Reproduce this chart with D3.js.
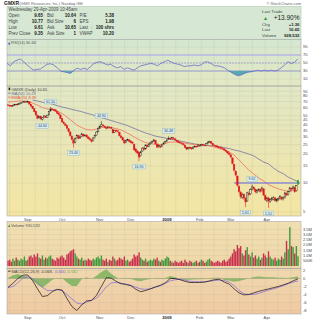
<!DOCTYPE html>
<html>
<head>
<meta charset="utf-8">
<script src="https://cdn.jsdelivr.net/npm/d3@7"></script>
<style>
  body { margin: 0; background: #fff; }
  svg { display: block; font-family: "Liberation Sans", Arial, sans-serif; }
</style>
</head>
<body>
<div id="chart"></div>
<script>
// ---- daily candles (Aug 14 2008 .. Apr 29 2009) ----
const opens = [64.8,64.0,63.4,62.9,64.3,65.5,64.8,66.0,67.5,68.2,
  69.8,70.0,69.0,69.8,65.5,62.4,59.0,55.6,50.5,47.5,
  49.2,46.0,47.9,49.5,48.0,51.0,56.0,58.9,57.6,57.5,
  55.5,53.2,50.8,46.5,42.8,41.0,39.5,36.5,33.8,30.5,
  28.0,26.5,29.5,31.0,29.4,30.5,32.0,31.0,31.5,30.0,
  28.8,28.0,27.5,29.5,31.5,34.0,37.2,38.8,40.0,38.8,
  37.5,37.2,38.0,37.8,36.0,33.6,35.2,34.8,33.5,30.8,
  29.5,27.6,26.5,27.8,28.0,27.2,26.5,25.2,22.5,21.4,
  20.8,19.2,21.5,23.1,22.6,24.6,24.0,25.5,26.4,27.2,
  27.6,25.4,23.8,24.2,23.9,25.1,26.2,27.0,28.2,29.0,
  28.8,29.4,28.7,27.8,27.0,26.4,25.9,25.5,24.8,23.3,
  22.6,23.4,23.2,22.8,23.7,24.0,23.9,24.6,24.3,25.1,
  24.7,24.6,25.8,26.5,26.8,25.6,24.7,24.4,24.1,23.4,
  23.4,23.0,22.6,21.9,21.2,20.4,19.6,18.2,15.6,13.2,
  11.8,9.2,8.0,7.1,7.6,6.9,6.5,7.8,7.7,8.6,
  9.0,8.6,8.0,8.4,8.6,8.3,8.7,7.4,6.6,7.0,
  6.4,6.8,6.8,7.0,6.5,6.8,6.9,7.1,6.9,7.1,
  7.8,7.6,8.2,8.8,8.7,9.0,8.3,9.65];
const highs = [65.9,65.0,64.1,65.2,66.4,66.7,67.0,68.4,69.2,70.6,
  71.5,71.2,71.8,70.4,66.3,63.5,59.8,56.2,51.4,49.8,
  49.9,48.3,50.6,50.3,51.3,56.2,61.5,59.8,58.5,58.1,
  56.0,54.0,51.5,47.2,44.0,42.1,40.2,37.4,34.5,31.4,
  28.9,29.6,32.0,31.8,30.9,33.2,32.7,32.2,32.0,30.8,
  29.6,28.7,29.9,31.8,34.5,37.8,39.6,43.9,41.2,39.7,
  38.6,39.0,38.9,38.5,36.7,35.8,36.0,35.6,34.1,31.6,
  30.2,28.3,28.2,29.0,28.6,27.9,27.1,25.8,23.2,22.0,
  21.2,21.6,23.6,23.8,25.3,25.2,25.8,26.8,27.6,28.7,
  28.1,25.9,24.9,24.7,25.4,26.5,27.4,28.6,30.48,29.7,
  30.1,29.9,29.2,28.3,27.6,27.0,26.4,26.0,25.3,23.8,
  23.7,23.9,23.6,24.1,24.6,24.5,25.2,25.0,25.5,25.6,
  25.2,26.0,27.1,27.6,27.2,26.0,25.2,24.8,24.5,24.0,
  23.8,23.4,23.0,22.3,21.6,20.9,20.0,18.5,16.0,13.6,
  12.0,9.5,8.3,7.9,7.8,7.1,8.1,8.2,8.8,9.62,
  9.3,8.8,8.6,8.8,8.8,9.2,8.8,7.6,7.2,7.1,
  6.9,7.2,7.3,7.1,6.9,7.1,7.5,7.3,7.3,8.1,
  8.0,8.3,9.1,9.0,9.4,9.2,9.5,10.77];
const lows = [62.8,62.2,61.6,62.3,63.5,63.9,64.2,65.4,66.6,67.5,
  68.6,68.1,68.4,65.2,61.9,58.7,54.3,50.1,46.0,46.6,
  45.4,44.6,47.0,47.4,47.5,50.4,55.3,56.9,55.9,55.0,
  52.2,50.3,46.2,42.3,40.6,38.9,36.1,33.5,30.2,27.6,
  23.4,25.8,28.9,28.4,28.7,30.0,30.1,30.4,29.5,28.3,
  27.4,26.2,27.0,29.0,31.0,33.6,36.5,38.2,38.4,37.2,
  36.0,36.6,36.7,36.2,32.5,33.0,33.8,33.4,30.4,28.9,
  27.3,25.4,25.9,27.2,26.4,25.7,25.3,21.6,20.6,19.8,
  16.9,18.7,21.0,21.7,22.2,23.3,23.6,25.0,25.9,26.8,
  25.0,23.0,23.3,23.0,23.5,24.7,25.8,26.6,27.9,28.0,
  28.3,28.3,27.5,26.7,26.0,25.5,25.0,24.4,23.0,22.0,
  22.2,22.5,22.1,22.4,23.3,23.3,23.6,23.8,24.0,24.3,
  24.0,24.3,25.5,26.0,25.5,24.3,24.0,23.5,23.1,23.0,
  22.5,22.2,21.6,20.9,20.0,19.3,18.1,15.6,13.2,11.7,
  9.2,7.8,6.9,6.8,6.7,5.61,6.4,7.3,7.5,8.4,
  8.4,7.8,7.8,8.1,7.9,8.1,7.3,6.5,6.3,5.51,
  6.2,6.5,6.6,6.4,6.3,6.5,6.7,6.6,6.6,6.9,
  7.3,7.4,8.0,8.3,8.5,7.9,8.1,9.61];
const closes = [64.2,63.1,62.5,64.0,65.3,64.6,66.1,67.2,68.0,69.4,
  70.1,69.2,70.3,66.0,62.8,59.6,55.2,51.0,47.1,48.9,
  46.3,47.5,49.8,48.2,50.6,55.4,58.6,58.0,57.1,55.8,
  53.0,51.2,47.0,43.1,41.5,39.8,37.0,34.2,31.0,28.5,
  26.0,28.9,31.2,29.1,30.0,32.4,30.8,31.3,30.1,29.0,
  28.1,27.0,29.3,31.1,33.8,37.0,38.5,40.2,39.1,38.0,
  36.9,38.2,37.5,37.0,33.2,35.0,34.6,34.1,31.0,29.6,
  28.0,26.1,27.5,28.2,27.0,26.3,26.0,22.1,21.2,20.5,
  18.6,21.0,23.0,22.3,24.8,23.9,25.2,26.1,27.0,28.0,
  25.6,23.6,24.4,23.6,24.9,26.0,26.8,28.0,29.1,28.6,
  29.5,28.9,28.0,27.2,26.5,26.0,25.6,25.0,23.4,22.5,
  23.2,23.0,22.6,23.6,24.1,23.8,24.8,24.2,25.0,24.8,
  24.5,25.6,26.6,27.0,25.9,24.8,24.5,24.0,23.6,23.5,
  23.0,22.7,22.0,21.4,20.5,19.8,18.6,16.0,13.6,12.1,
  9.5,8.1,7.2,7.5,7.0,6.35,7.9,7.6,8.5,9.1,
  8.7,8.1,8.3,8.5,8.2,8.9,7.5,6.7,7.0,6.5,
  6.7,6.9,7.0,6.6,6.7,6.9,7.2,6.8,7.0,7.9,
  7.5,8.1,8.9,8.6,9.1,8.1,9.35,10.65];
// volume in millions
const volumes = [0.5,0.6,0.4,0.7,0.5,0.8,0.6,0.5,0.7,0.6,0.9,0.5,0.6,
  0.9,1.0,0.8,1.1,0.9,1.2,0.8,0.7,1.0,0.6,0.8,0.7,0.9,
  1.0,0.7,0.6,0.5,0.8,0.7,0.9,1.0,0.8,0.6,1.1,1.2,1.4,1.5,1.6,
  1.2,0.9,0.7,0.6,0.8,0.5,0.6,0.5,0.7,0.6,0.5,0.7,0.6,0.8,0.9,
  0.7,1.0,0.6,0.5,0.7,0.4,0.6,0.5,0.9,0.7,0.5,0.6,0.8,0.7,0.6,0.9,0.5,0.6,0.4,0.5,
  0.7,1.1,0.9,1.0,1.3,0.8,0.6,0.5,0.7,0.4,0.5,0.6,0.5,0.7,0.6,0.8,0.5,0.4,0.6,0.5,0.7,0.9,
  0.8,0.5,0.4,0.3,0.5,0.4,0.3,0.4,0.5,0.3,0.6,0.4,0.3,0.5,0.4,0.3,0.4,0.5,0.3,0.4,
  0.6,0.5,0.3,0.4,0.6,0.7,0.5,0.4,0.3,0.4,0.5,0.4,0.3,0.5,0.6,0.4,0.5,0.7,
  0.9,1.2,1.6,1.4,2.0,1.7,1.9,1.2,1.0,1.5,1.8,1.1,0.9,1.3,0.8,1.0,0.7,0.9,0.6,0.8,1.2,1.0,
  0.8,1.4,0.9,0.7,0.6,0.8,0.5,0.7,0.6,0.9,0.7,1.3,2.4,1.6,3.7,1.9,1.8,1.2,1.9,0.93];

// ---- indicator lines, one reading every 3 trading days ----
const ma50 = [null,null,null,null,null,72.6,71,69,67.6,66,63.6,61.5,60,58,56.5,55,53,51.4,49.6,47.8,
  46.1,44.5,42.9,41.4,40,38.1,36.3,34.6,33,31.9,30.7,30,29.3,28.6,27.9,27.3,26.6,26,25.4,25.1,
  24.8,24.5,24.2,23.9,23.3,22.8,22,21.5,20.7,20,19.1,17.7,16.5,15.8,14.3,13.2,12.5,11.5,10.9,10.29];
const ema20 = [69.3,70,71,71,70,67.6,64.4,60.7,59,58,55.9,52.7,48.4,44,40,37.6,35.9,35.5,36.3,37.6,
  38,37.6,36.7,35.5,33.5,31.5,29.3,27.6,26.3,25.7,25.1,25.1,25.7,26.6,26.6,26.3,26,25.4,25.1,24.8,
  24.5,24.2,23.6,22.8,22,21,19.5,17.3,15.4,13.6,12.4,11.3,10.5,9.6,9.1,8.7,8.4,8.2,8.3,8.39];
const macd = [-2.2,-1.2,0,0.8,0.9,-0.5,-2.6,-4.5,-4.3,-3.3,-2.7,-2.9,-5.0,-7.0,-8.0,-6.6,-5.6,-5.5,-4.2,-2.0,
  0.2,0.1,-0.7,-1.3,-1.5,-1.8,-2.7,-3.3,-3.0,-2.6,-2.1,-1.7,-1.1,0,0,-0.3,-0.7,-1.0,-1.0,-1.0,
  -0.9,-0.6,-0.3,-0.2,-0.9,-1.4,-2.6,-3.6,-4.1,-4.0,-3.6,-3.2,-2.9,-2.6,-2.3,-2.0,-1.6,-1.2,-0.6,-0.068];
const signal = [-2.3,-2.0,-1.1,0.1,0.5,0.0,-1.1,-2.2,-3.0,-3.0,-2.8,-3.0,-4.0,-5.1,-6.1,-6.4,-5.9,-5.4,-4.9,-3.6,
  -2.1,-1.1,-1.0,-1.2,-1.4,-1.7,-2.2,-2.6,-2.7,-2.5,-2.2,-1.8,-1.2,-0.6,-0.3,-0.2,-0.4,-0.7,-0.8,-0.8,
  -0.8,-0.7,-0.5,-0.4,-0.5,-0.9,-1.8,-3.0,-3.8,-4.0,-4.0,-3.7,-3.3,-2.9,-2.6,-2.2,-1.8,-1.3,-0.9,-0.6];
// RSI(14), one reading every 2 trading days
const rsi = [49,43,53,57,60,53,45,38,32,34,35,41,47,48,45,38,30,28,26,24,
  32,37,34,37,34,41,49,52,53,49,45,47,41,38,41,34,38,35,32,38,
  43,45,47,49,47,43,49,53,57,53,49,47,45,41,43,43,45,43,45,52,
  53,49,43,43,41,38,32,27,22,18,20,24,27,28,30,32,30,32,30,32,
  30,32,38,45,53,49,52,60.66];

// ---- axis / annotation values ----
const monthLabels = ['Sep','Oct','Nov','Dec','2009','Feb','Mar','Apr'];
const monthStarts = [12,33,56,75,97,117,136,158];
const priceTicks = [90,80,70,60,50,45,40,35,30,25,20,15,10,5];
const volTicks = [0.5,1,1.5,2,2.5,3,3.5];
const macdTicks = [2,0,-2,-4,-6,-8];
const rsiTicks = [90,70,50,30,10];
const peakDays = [26,57,98,149];
const troughDays = [21,40,80,145,159];
const trendDays = [138,177];
const trendPrice = 10;

const quoteLeft = [['Open','9.65'],['High','10.77'],['Low','9.61'],['Prev Close','9.35']];
const quoteMid = [['Bid','10.64'],['Bid Size','6'],['Ask','10.65'],['Ask Size','1']];
const quoteRight = [['P/E','5.38'],['EPS','1.98'],['Last',''],['VWAP','10.20']];
const lastTrade = [['Chg','+1.30'],['Last','10.65'],['Volume','928,532']];

const N = closes.length;
const L = 7, R = 301;
const panels = {
  rsi: [39.5, 86], price: [86, 216], vol: [221.5, 268.3], macd: [268.3, 314]
};

const svg = d3.select('#chart').append('svg').attr('width', 320).attr('height', 320);
const defs = svg.append('defs');

function grad(id, c0, c1) {
  const g = defs.append('linearGradient').attr('id', id)
    .attr('x1', 0).attr('y1', 0).attr('x2', 0).attr('y2', 1);
  g.append('stop').attr('offset', 0).attr('stop-color', c0);
  g.append('stop').attr('offset', 1).attr('stop-color', c1);
}
grad('gRsi', '#d5e6d1', '#e3e9c3');
grad('gPrice', '#e1e7c6', '#f4e5a2');
grad('gVol', '#f1dfb2', '#efd7a8');
grad('gMacd', '#f0d8ae', '#f0c9a2');

Object.entries(panels).forEach(([k, [y0, y1]]) => {
  defs.append('clipPath').attr('id', 'clip-' + k)
    .append('rect').attr('x', L).attr('y', y0).attr('width', R - L).attr('height', y1 - y0);
});

// scales
const x = d3.scaleLinear().domain([0, N - 1]).range([8, 298]);
const sx = d3.scaleLinear().domain([0, macd.length - 1]).range([x(0), x(N - 1)]);
const rx = d3.scaleLinear().domain([0, rsi.length - 1]).range([x(0) - 1, x(N - 1)]);
const rsiY = d3.scaleLinear().domain([0, 100]).range([83, 43]);
const priceY = d3.scaleLog().domain([4, 100]).range([221.3, 86.7]);
const volY = d3.scaleLinear().domain([0, 3.5]).range([266, 229.3]);
const macdY = d3.scaleLinear().domain([-8, 2]).range([310.5, 270.5]);

// header
svg.append('text').attr('x', 4).attr('y', 5).attr('font-size', 5).attr('font-weight', 'bold')
  .attr('fill', '#222').text('GMXR');
svg.append('text').attr('x', 19.5).attr('y', 5).attr('font-size', 4).attr('fill', '#666')
  .text('(GMX Resources, Inc.) Nasdaq GM');
svg.append('text').attr('x', 301).attr('y', 4.6).attr('text-anchor', 'end').attr('font-size', 4)
  .attr('fill', '#666').text('© StockCharts.com');

// quote box
svg.append('rect').attr('x', L).attr('y', 6.5).attr('width', R - L).attr('height', 33)
  .attr('fill', '#d6e8d4').attr('stroke', '#a8bfa8').attr('stroke-width', 0.5);
const qg = svg.append('g').attr('font-size', 4.5).attr('fill', '#444');
qg.append('text').attr('x', 8.5).attr('y', 11).text('Wednesday  29-Apr-2009  10:45am');
const rows = [17.3, 23.3, 29.3, 35.3];
function quoteCol(pairs, lx, vx) {
  pairs.forEach((p, j) => {
    qg.append('text').attr('x', lx).attr('y', rows[j]).text(p[0]);
    qg.append('text').attr('x', vx).attr('y', rows[j]).attr('text-anchor', 'end')
      .attr('font-weight', 'bold').attr('fill', '#222').text(p[1]);
  });
}
quoteCol(quoteLeft, 8.5, 43);
quoteCol(quoteMid, 47, 76);
quoteCol(quoteRight, 79.5, 114);
qg.append('text').attr('x', 90.5).attr('y', rows[2]).attr('fill', '#2a9a2a').attr('font-weight', 'bold').text('↑');
qg.append('text').attr('x', 114).attr('y', rows[2]).attr('text-anchor', 'end')
  .attr('font-weight', 'bold').attr('fill', '#222').text('100 shrs');
qg.append('text').attr('x', 262).attr('y', 13.2).attr('font-size', 4.3).text('Last Trade');
qg.append('text').attr('x', 263).attr('y', 20).attr('fill', '#2a9a2a').attr('font-size', 5).text('▲');
qg.append('text').attr('x', 299.5).attr('y', 20.2).attr('text-anchor', 'end').attr('font-size', 6.5)
  .attr('fill', '#222').text('+13.90%');
lastTrade.forEach((p, j) => {
  const yy = 25.8 + j * 5.6;
  qg.append('text').attr('x', 262).attr('y', yy).attr('font-size', 4.3).text(p[0]);
  qg.append('text').attr('x', 299.5).attr('y', yy).attr('text-anchor', 'end').attr('font-size', 4.3)
    .attr('font-weight', 'bold').attr('fill', '#222').text(p[1]);
});

// panel backgrounds
const bgFill = { rsi: 'url(#gRsi)', price: 'url(#gPrice)', vol: 'url(#gVol)', macd: 'url(#gMacd)' };
Object.entries(panels).forEach(([k, [y0, y1]]) => {
  svg.append('rect').attr('x', L).attr('y', y0).attr('width', R - L).attr('height', y1 - y0)
    .attr('fill', bgFill[k]);
});

// vertical grid
const gridDays = d3.range(1, N, 7.8);
Object.entries(panels).forEach(([k, [y0, y1]]) => {
  svg.append('g').selectAll('line').data(gridDays).join('line')
    .attr('x1', d => x(d)).attr('x2', d => x(d)).attr('y1', y0).attr('y2', y1)
    .attr('stroke', '#a9ad98').attr('stroke-opacity', 0.35).attr('stroke-width', 0.5);
});

function hGrid(ticks, scale) {
  svg.append('g').selectAll('line').data(ticks).join('line')
    .attr('x1', L).attr('x2', R).attr('y1', d => scale(d)).attr('y2', d => scale(d))
    .attr('stroke', '#a9ad98').attr('stroke-opacity', 0.35).attr('stroke-width', 0.5);
}
function rightAxis(ticks, scale, fmt) {
  svg.append('g').attr('font-size', 4).attr('fill', '#444').selectAll('text').data(ticks).join('text')
    .attr('x', 303).attr('y', d => scale(d) + 1.4).text(fmt);
}
hGrid(rsiTicks, rsiY);
hGrid(priceTicks, priceY);
hGrid(volTicks, volY);
hGrid(macdTicks, macdY);
rightAxis(rsiTicks, rsiY, d => d);
rightAxis(priceTicks, priceY, d => d);
rightAxis(volTicks, volY, d => d < 1 ? (d * 1000) + 'K' : d.toFixed(1) + 'M');
rightAxis(macdTicks, macdY, d => d);

// ---- RSI panel ----
const gr = svg.append('g').attr('clip-path', 'url(#clip-rsi)');
gr.append('line').attr('x1', L).attr('x2', R).attr('y1', rsiY(70)).attr('y2', rsiY(70))
  .attr('stroke', '#b9b9e6').attr('stroke-width', 1.6);
gr.append('line').attr('x1', L).attr('x2', R).attr('y1', rsiY(30)).attr('y2', rsiY(30))
  .attr('stroke', '#8a8ad6').attr('stroke-width', 0.8);
gr.append('line').attr('x1', L).attr('x2', R).attr('y1', rsiY(50)).attr('y2', rsiY(50))
  .attr('stroke', '#8a8ad6').attr('stroke-width', 0.6).attr('stroke-dasharray', '2,1');
gr.append('path').datum(rsi)
  .attr('d', d3.area().x((d, i) => rx(i)).y0(rsiY(30)).y1(d => rsiY(Math.min(d, 30))))
  .attr('fill', '#56abb0');
gr.append('path').datum(rsi)
  .attr('d', d3.line().x((d, i) => rx(i)).y(d => rsiY(d)))
  .attr('fill', 'none').attr('stroke', '#5c5ccc').attr('stroke-width', 0.7);
svg.append('path').attr('d', 'M8,44.5 l1.2,-2.4 l1.2,2.4 z').attr('fill', '#4d4dc0');
svg.append('text').attr('x', 11).attr('y', 44.3).attr('font-size', 4).attr('fill', '#555')
  .text('RSI(14) ' + rsi[rsi.length - 1].toFixed(2));

// ---- price panel ----
const gp = svg.append('g').attr('clip-path', 'url(#clip-price)');
const lineP = d3.line().defined(d => d != null).x((d, i) => sx(i)).y(d => priceY(d));
gp.append('path').datum(ma50).attr('d', lineP).attr('fill', 'none')
  .attr('stroke', '#7474a4').attr('stroke-width', 0.8);
gp.append('path').datum(ema20).attr('d', lineP).attr('fill', 'none')
  .attr('stroke', '#f0705c').attr('stroke-width', 0.8);
gp.append('line').attr('x1', x(trendDays[0])).attr('x2', x(trendDays[1]) + 2)
  .attr('y1', priceY(trendPrice)).attr('y2', priceY(trendPrice))
  .attr('stroke', '#6262e0').attr('stroke-width', 1);

const candles = d3.range(N).map(i => ({
  i, o: opens[i], h: highs[i], l: lows[i], c: closes[i],
  up: i === 0 ? closes[0] >= opens[0] : closes[i] >= closes[i - 1]
}));
const cColor = d => d.i === N - 1 ? '#22aa33' : (d.up ? '#1a1a1a' : '#e01818');
gp.append('g').selectAll('line').data(candles).join('line')
  .attr('x1', d => x(d.i)).attr('x2', d => x(d.i))
  .attr('y1', d => priceY(d.h)).attr('y2', d => priceY(d.l))
  .attr('stroke', cColor).attr('stroke-width', 0.55);
gp.append('g').selectAll('rect').data(candles).join('rect')
  .attr('x', d => x(d.i) - 0.75).attr('width', 1.5)
  .attr('y', d => priceY(Math.max(d.o, d.c)))
  .attr('height', d => Math.max(0.6, priceY(Math.min(d.o, d.c)) - priceY(Math.max(d.o, d.c))))
  .attr('fill', d => d.c > d.o && d.i !== N - 1 ? '#efe6c0' : cColor(d))
  .attr('stroke', cColor).attr('stroke-width', 0.4);

function priceTag(i, v, dy) {
  const t = v.toFixed(2);
  const w = t.length * 2.1 + 2;
  const cy = priceY(v) + dy;
  const g = svg.append('g');
  g.append('rect').attr('x', x(i) - w / 2).attr('y', cy - 2.4).attr('width', w).attr('height', 4.8)
    .attr('fill', '#d9eef2').attr('stroke', '#8db3be').attr('stroke-width', 0.4);
  g.append('text').attr('x', x(i)).attr('y', cy + 1.3).attr('text-anchor', 'middle')
    .attr('font-size', 3.6).attr('fill', '#345').text(t);
}
peakDays.forEach(i => priceTag(i, highs[i], -5.5));
troughDays.forEach(i => priceTag(i, lows[i], 5.5));

// legend
svg.append('rect').attr('x', 8.6).attr('y', 87.6).attr('width', 1.6).attr('height', 2.6).attr('fill', '#222');
svg.append('text').attr('x', 11.5).attr('y', 90.6).attr('font-size', 4).attr('fill', '#444')
  .text('GMXR (Daily) ' + closes[N - 1].toFixed(2));
svg.append('line').attr('x1', 8).attr('x2', 10.8).attr('y1', 93.2).attr('y2', 93.2)
  .attr('stroke', '#7474a4').attr('stroke-width', 0.8);
svg.append('text').attr('x', 11.5).attr('y', 94.6).attr('font-size', 4).attr('fill', '#6a6a98')
  .text('MA(50) ' + ma50[ma50.length - 1].toFixed(2));
svg.append('line').attr('x1', 8).attr('x2', 10.8).attr('y1', 97.2).attr('y2', 97.2)
  .attr('stroke', '#f0705c').attr('stroke-width', 0.8);
svg.append('text').attr('x', 11.5).attr('y', 98.6).attr('font-size', 4).attr('fill', '#e0503c')
  .text('EMA(20) ' + ema20[ema20.length - 1].toFixed(2));

// ---- volume panel ----
const gv = svg.append('g').attr('clip-path', 'url(#clip-vol)');
gv.selectAll('rect').data(candles).join('rect')
  .attr('x', d => x(d.i) - 0.7).attr('width', 1.4)
  .attr('y', d => volY(volumes[d.i])).attr('height', d => volY(0) - volY(volumes[d.i]))
  .attr('fill', d => d.up ? '#3f9a3c' : '#c8304e');
svg.append('path').attr('d', 'M8,227 l1.2,-2.4 l1.2,2.4 z').attr('fill', '#3f9a3c');
svg.append('text').attr('x', 11).attr('y', 226.8).attr('font-size', 4).attr('fill', '#555')
  .text('Volume ' + d3.format(',')(Math.round(volumes[N - 1] * 1e6 / 1000) * 1000 + 532));

// ---- MACD panel ----
const gm = svg.append('g').attr('clip-path', 'url(#clip-macd)');
gm.append('path').datum(macd)
  .attr('d', d3.area().x((d, i) => sx(i)).y0(macdY(0)).y1((d, i) => macdY(d - signal[i])))
  .attr('fill', '#7bb35e').attr('fill-opacity', 0.85);
gm.append('line').attr('x1', L).attr('x2', R).attr('y1', macdY(0)).attr('y2', macdY(0))
  .attr('stroke', '#9a9a80').attr('stroke-width', 0.4);
gm.append('path').datum(signal)
  .attr('d', d3.line().x((d, i) => sx(i)).y(d => macdY(d)))
  .attr('fill', 'none').attr('stroke', '#8062e0').attr('stroke-width', 0.7);
gm.append('path').datum(macd)
  .attr('d', d3.line().x((d, i) => sx(i)).y(d => macdY(d)))
  .attr('fill', 'none').attr('stroke', '#111').attr('stroke-width', 0.7);
svg.append('line').attr('x1', 8).attr('x2', 10.6).attr('y1', 271.2).attr('y2', 271.2)
  .attr('stroke', '#111').attr('stroke-width', 0.7);
const lastM = macd[macd.length - 1], lastS = signal[signal.length - 1];
const mt = svg.append('text').attr('x', 11.5).attr('y', 272.6).attr('font-size', 4).attr('fill', '#444');
mt.append('tspan').text('MACD(12,26,9) ' + lastM.toFixed(3) + ',');
mt.append('tspan').attr('fill', '#7a5ad8').text(' ' + lastS.toFixed(3) + ',');
mt.append('tspan').attr('fill', '#6aaa4a').text(' ' + (lastM - lastS).toFixed(3));

// panel borders
Object.values(panels).forEach(([y0, y1]) => {
  svg.append('rect').attr('x', L).attr('y', y0).attr('width', R - L).attr('height', y1 - y0)
    .attr('fill', 'none').attr('stroke', '#9c9c9c').attr('stroke-width', 0.5);
});

// date labels
[220.8, 318.6].forEach(yy => {
  svg.append('g').attr('font-size', 4.2).attr('fill', '#444').selectAll('text')
    .data(monthLabels).join('text')
    .attr('x', (d, j) => x(monthStarts[j])).attr('y', yy).attr('text-anchor', 'middle')
    .attr('font-weight', d => d === '2009' ? 'bold' : null).attr('fill', d => d === '2009' ? '#222' : '#555')
    .text(d => d);
});
</script>
</body>
</html>
